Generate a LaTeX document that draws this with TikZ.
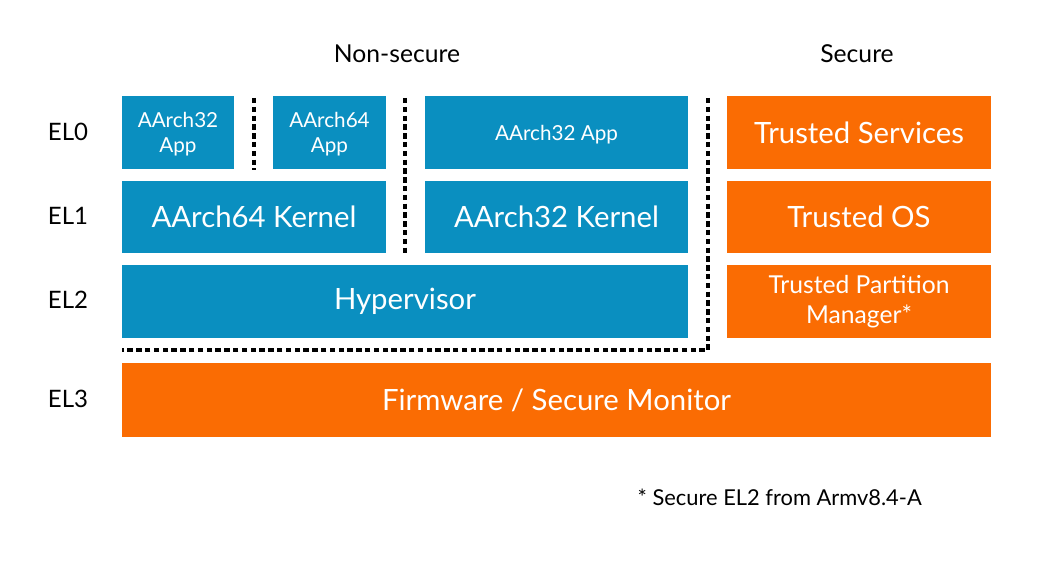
\documentclass[tikz,border=0pt]{standalone}
\usepackage{fontspec}
\setmainfont{Lato}
\definecolor{armblue}{HTML}{0A8FC0}
\definecolor{armorange}{HTML}{FA6C03}
\tikzset{
  box/.style 2 args={inner sep=0pt, outer sep=0pt, text=white, align=center,
    minimum width={#1*0.75pt}, minimum height={#2*0.75pt}},
  bluebox/.style={fill=armblue},
  orangebox/.style={fill=armorange},
  big/.style={font=\fontsize{22}{26}\selectfont},
  small/.style={font=\fontsize{15.5}{18.5}\selectfont, text depth=0pt},
  mid/.style={font=\fontsize{18.5}{22.5}\selectfont},
  lbl/.style={font=\fontsize{18}{21}\selectfont, text=black},
  sep/.style={draw=black, line width=2.6pt, dash pattern=on 4pt off 2.6pt}
}
\begin{document}
\begin{tikzpicture}[x=0.75pt,y=-0.75pt]
\useasboundingbox (0,0) rectangle (1046,577);
% headers
\node[lbl, font=\fontsize{18.5}{21}\selectfont] (ns) at (397,54) {Non-secure};
\node[lbl, font=\fontsize{18.5}{21}\selectfont] (sec) at (857,54) {Secure};
% EL labels
\node[lbl] (el0) at (68,132) {EL0};
\node[lbl] (el1) at (68,216) {EL1};
\node[lbl] (el2) at (68,300) {EL2};
\node[lbl] (el3) at (68,399) {EL3};
% EL0
\node[box={112}{73}, bluebox, small] (app1) at (178,132.5) {AArch32\\App};
\node[box={113}{73}, bluebox, small] (app2) at (329.5,132.5) {AArch64\\App};
\node[box={263}{73}, bluebox, small] (app3) at (556.5,132.5) {AArch32 App};
\node[box={264}{73}, orangebox, big] (ts) at (859,132.5) {Trusted Services};
% EL1
\node[box={264}{72}, bluebox, big] (k64) at (254,217) {AArch64 Kernel};
\node[box={263}{72}, bluebox, big] (k32) at (556.5,217) {AArch32 Kernel};
\node[box={264}{72}, orangebox, big] (tos) at (859,217) {Trusted OS};
% EL2
\node[box={566}{73}, bluebox, big] (hyp) at (405,301.5) {Hypervisor};
\node[box={264}{73}, orangebox, mid] (tpm) at (859,301.5) {Trusted Partition\\Manager*};
% EL3
\node[box={869}{74}, orangebox, big] (fw) at (556.5,400) {Firmware / Secure Monitor};
% separators
\draw[sep] (254,98) -- (254,170);
\draw[sep] (405,98) -- (405,254);
\draw[sep] (708,98) -- (708,350) -- (122,350);
% footnote
\node[lbl, font=\fontsize{16.4}{20}\selectfont, anchor=west] (fn) at (633,497) {* Secure EL2 from Armv8.4-A};
\end{tikzpicture}
\end{document}
